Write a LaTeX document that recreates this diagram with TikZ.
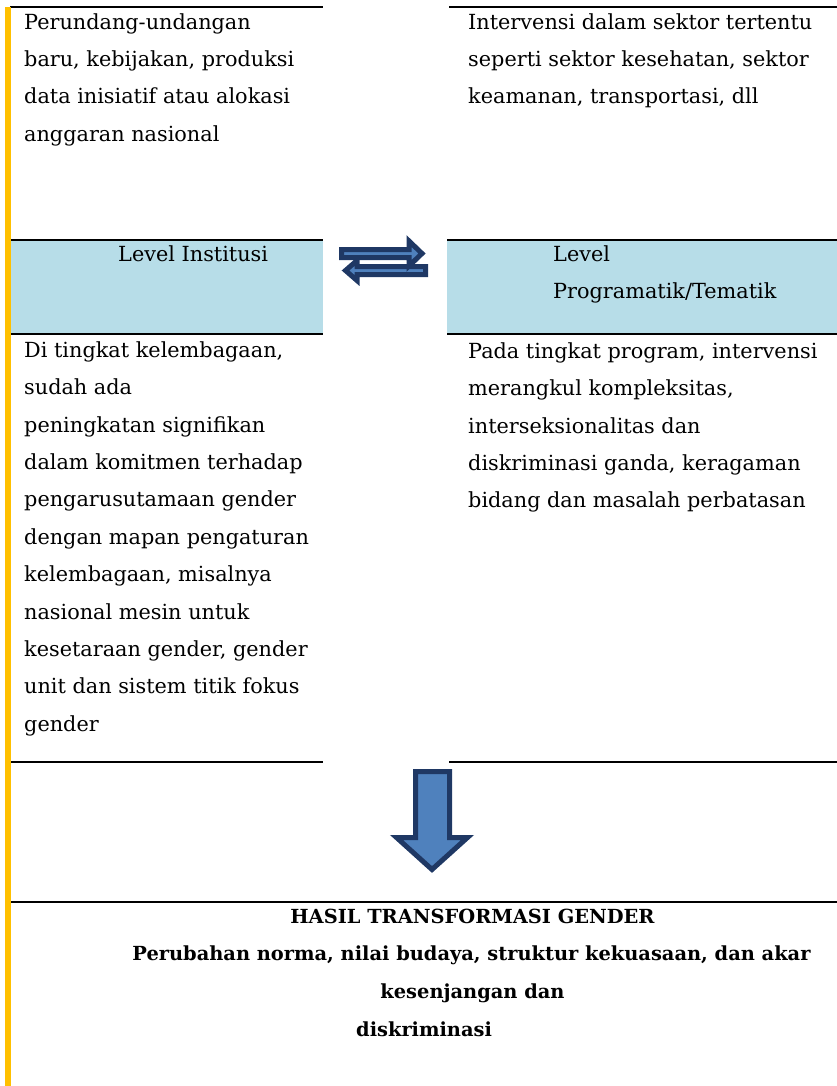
\documentclass[tikz,border=0pt]{standalone}
\usepackage{fontspec}
\setmainfont{DejaVu Serif}
\definecolor{bandblue}{HTML}{B7DDE8}
\definecolor{goldbar}{HTML}{FFC000}
\definecolor{arrowfill}{HTML}{4F81BD}
\definecolor{arrowline}{HTML}{1F3864}
\tikzset{
  bodytext/.style={font=\fontsize{20.8}{37.4}\selectfont, align=left, anchor=north west, inner sep=0pt},
  boldtext/.style={font=\bfseries\fontsize{19.4}{37.4}\selectfont, inner sep=0pt},
  rulestyle/.style={line width=2pt, black},
  bigarrow/.style={fill=arrowfill, draw=arrowline, line width=5pt, line join=miter},
}
\newcommand{\fs}{\rule{0pt}{18pt}}
\begin{document}
\begin{tikzpicture}[x=1pt,y=-1pt]
\useasboundingbox (0,0) rectangle (837,1086);
% bands
\fill[bandblue] (10,240) rectangle (323,334);
\fill[bandblue] (447,240) rectangle (837,334);
% rules
\draw[rulestyle] (10,7) -- (323,7);
\draw[rulestyle] (449,7) -- (837,7);
\draw[rulestyle] (10,240) -- (323,240);
\draw[rulestyle] (447,240) -- (837,240);
\draw[rulestyle] (10,334) -- (323,334);
\draw[rulestyle] (447,334) -- (837,334);
\draw[rulestyle] (10,762) -- (323,762);
\draw[rulestyle] (449,762) -- (837,762);
\draw[rulestyle] (10,902) -- (837,902);
% yellow bar
\fill[goldbar] (5,7) rectangle (11,1086);
% texts
\node[bodytext] (tl) at (24,11) {\fs Perundang-undangan\\baru, kebijakan, produksi\\data inisiatif atau alokasi\\anggaran nasional};
\node[bodytext] (tr) at (468,11) {\fs Intervensi dalam sektor tertentu\\seperti sektor kesehatan, sektor\\keamanan, transportasi, dll};
\node[bodytext, anchor=base west] (li) at (118,261) {Level Institusi};
\node[bodytext] (lp) at (553,243) {\fs Level\\Programatik/Tematik};
\node[bodytext] (ml) at (24,339) {\fs Di tingkat kelembagaan,\\sudah ada\\peningkatan signifikan\\dalam komitmen terhadap\\pengarusutamaan gender\\dengan mapan pengaturan\\kelembagaan, misalnya\\nasional mesin untuk\\kesetaraan gender, gender\\unit dan sistem titik fokus\\gender};
\node[bodytext] (mr) at (468,340) {\fs Pada tingkat program, intervensi\\merangkul kompleksitas,\\interseksionalitas dan\\diskriminasi ganda, keragaman\\bidang dan masalah perbatasan};
% double arrow
\draw[bigarrow] (425.5,266.5) -- (357,266.5) -- (357,260.5) -- (345.5,270.5) -- (357,280.5) -- (357,274.5) -- (425.5,274.5) -- cycle;
\draw[bigarrow] (341.5,249.5) -- (409,249.5) -- (409,241) -- (422,253.5) -- (409,266) -- (409,257.5) -- (341.5,257.5) -- cycle;
% down arrow
\draw[bigarrow] (415.5,771.5) -- (449.5,771.5) -- (449.5,837.5) -- (467.5,837.5) -- (432,869.5) -- (396.5,837.5) -- (415.5,837.5) -- cycle;
% bottom texts
\node[boldtext, anchor=base] (h1) at (472.5,923) {HASIL TRANSFORMASI GENDER};
\node[boldtext, anchor=base] (h2) at (471.5,960) {Perubahan norma, nilai budaya, struktur kekuasaan, dan akar};
\node[boldtext, anchor=base] (h3) at (472.5,998) {kesenjangan dan};
\node[boldtext, anchor=base west] (h4) at (356,1036) {diskriminasi};
\end{tikzpicture}
\end{document}
